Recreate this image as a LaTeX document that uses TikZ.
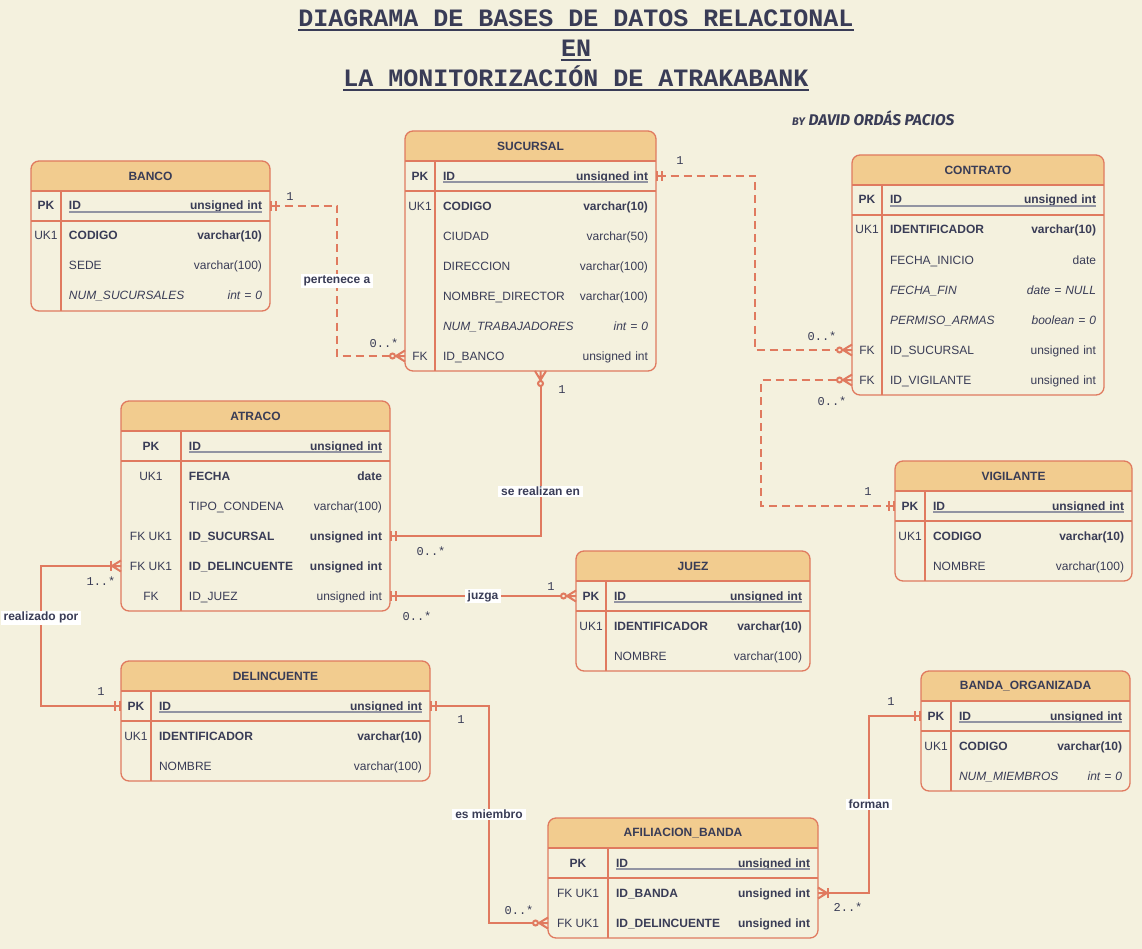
\documentclass[tikz,border=0pt]{standalone}
\usepackage{fontspec}
\setmainfont{Liberation Sans}
\newfontfamily\titlefont{Liberation Mono}
\newfontfamily\cardfont{Liberation Mono}
\newfontfamily\signfont{Fira Sans}
\usetikzlibrary{matrix,positioning,calc,arrows.meta}

\definecolor{paper}{HTML}{F4F1DE}
\definecolor{hdrfill}{HTML}{F2CC8F}
\definecolor{erd}{HTML}{E07A5F}
\definecolor{ink}{HTML}{393C56}

\newcommand\erdfont{\fontsize{12}{14}\selectfont}
\newcommand\fld[2]{\hbox to\hsize{#1\hfill#2}}

% crow's foot, tip at the table border
\pgfdeclarearrow{
  name = Crow,
  parameters = {\the\pgfarrowlength,\the\pgfarrowwidth},
  setup code = {
    \pgfarrowssettipend{0pt}
    \pgfarrowssetlineend{-\pgfarrowlength}
    \pgfarrowssetbackend{-\pgfarrowlength}
    \pgfarrowssavethe\pgfarrowlength
    \pgfarrowssavethe\pgfarrowwidth
  },
  drawing code = {
    \pgfsetdash{}{0pt}
    \pgfpathmoveto{\pgfqpoint{0pt}{.5\pgfarrowwidth}}
    \pgfpathlineto{\pgfqpoint{-\pgfarrowlength}{0pt}}
    \pgfpathlineto{\pgfqpoint{0pt}{-.5\pgfarrowwidth}}
    \pgfpathmoveto{\pgfqpoint{-\pgfarrowlength}{0pt}}
    \pgfpathlineto{\pgfqpoint{0pt}{0pt}}
    \pgfusepathqstroke
  },
  defaults = {length=9pt, width=11pt}
}

\begin{document}
\begin{tikzpicture}[x=1pt, y=-1pt,
    erdcell/.style={anchor=center, minimum height=30pt, inner sep=0pt,
      outer sep=0pt, text height=10pt, text depth=2pt, text=ink, font=\erdfont},
    erdtab/.style n args={2}{matrix of nodes, nodes in empty cells,
      anchor=north west, inner sep=0pt, outer sep=0pt, row sep=0pt,
      column sep=0pt, nodes={erdcell},
      column 1/.style={nodes={minimum width=#1}},
      column 2/.style={nodes={text width=#2, inner xsep=8pt}},
      row 1/.style={nodes={font=\erdfont\bfseries}}},
    erdhead/.style={minimum height=30pt, inner sep=0pt, outer sep=0pt,
      text=ink, font=\erdfont\bfseries},
    erdframe/.style={draw=erd, line width=1.3pt},
    pkrule/.style={draw=ink!55, line width=1.3pt},
    rel/.style={draw=erd, line width=2pt},
    reldash/.style={rel, dash pattern=on 8pt off 5pt},
    rellabel/.style={fill=white, text=ink, font=\erdfont\bfseries,
      inner xsep=3pt, inner ysep=1.5pt},
    card/.style={text=ink, font=\cardfont\fontsize{12}{14}\selectfont, inner sep=1pt},
    title/.style={text=ink, font=\titlefont\bfseries\fontsize{25}{30}\selectfont,
      inner sep=0pt, anchor=base},
    titlerule/.style={draw=ink, line width=2pt},
    ermone/.tip={Bar[width=10pt, sep=3pt] Bar[width=10pt]},
    ermzmany/.tip={Circle[length=7pt, fill=paper, sep=0pt] Crow},
    ermomany/.tip={Bar[width=10pt, sep=0pt] Crow}]

  \path[use as bounding box, fill=paper] (0,0) rectangle (1142,949);

  % title
  \node[title] (title1) at (576,27) {DIAGRAMA DE BASES DE DATOS RELACIONAL};
  \node[title] (title2) at (576,57) {EN};
  \node[title] (title3) at (576,87) {LA MONITORIZACIÓN DE ATRAKABANK};
  \foreach \ln in {title1,title2,title3}
    \draw[titlerule] ([yshift=-3pt]\ln.base west) -- ([yshift=-3pt]\ln.base east);
  \node[anchor=base west, inner sep=0pt, text=ink,
    font=\signfont\bfseries\itshape\fontsize{15.5}{18}\selectfont] (author)
    at (792,126) {{\fontsize{11}{13}\selectfont BY} DAVID ORDÁS PACIOS};

  % tables
  \matrix (banco) [erdtab={30pt}{193pt}] at (31,191) {
    PK  & \fld{ID}{unsigned int} \\
    UK1 & \fld{\textbf{CODIGO}}{\textbf{varchar(10)}} \\
        & \fld{SEDE}{varchar(100)} \\
        & \fld{\textit{NUM\_SUCURSALES}}{\textit{int = 0}} \\
  };
  \matrix (sucursal) [erdtab={30pt}{205pt}] at (405,161) {
    PK  & \fld{ID}{unsigned int} \\
    UK1 & \fld{\textbf{CODIGO}}{\textbf{varchar(10)}} \\
        & \fld{CIUDAD}{varchar(50)} \\
        & \fld{DIRECCION}{varchar(100)} \\
        & \fld{NOMBRE\_DIRECTOR}{varchar(100)} \\
        & \fld{\textit{NUM\_TRABAJADORES}}{\textit{int = 0}} \\
    FK  & \fld{ID\_BANCO}{unsigned int} \\
  };
  \matrix (contrato) [erdtab={30pt}{206pt}] at (852,185) {
    PK  & \fld{ID}{unsigned int} \\
    UK1 & \fld{\textbf{IDENTIFICADOR}}{\textbf{varchar(10)}} \\
        & \fld{FECHA\_INICIO}{date} \\
        & \fld{\textit{FECHA\_FIN}}{\textit{date = NULL}} \\
        & \fld{\textit{PERMISO\_ARMAS}}{\textit{boolean = 0}} \\
    FK  & \fld{ID\_SUCURSAL}{unsigned int} \\
    FK  & \fld{ID\_VIGILANTE}{unsigned int} \\
  };
  \matrix (atraco) [erdtab={60pt}{193pt}] at (121,431) {
    PK     & \fld{ID}{unsigned int} \\
    UK1    & \fld{\textbf{FECHA}}{\textbf{date}} \\
           & \fld{TIPO\_CONDENA}{varchar(100)} \\
    FK UK1 & \fld{\textbf{ID\_SUCURSAL}}{\textbf{unsigned int}} \\
    FK UK1 & \fld{\textbf{ID\_DELINCUENTE}}{\textbf{unsigned int}} \\
    FK     & \fld{ID\_JUEZ}{unsigned int} \\
  };
  \matrix (vigilante) [erdtab={30pt}{191pt}] at (895,491) {
    PK  & \fld{ID}{unsigned int} \\
    UK1 & \fld{\textbf{CODIGO}}{\textbf{varchar(10)}} \\
        & \fld{NOMBRE}{varchar(100)} \\
  };
  \matrix (juez) [erdtab={30pt}{188pt}] at (576,581) {
    PK  & \fld{ID}{unsigned int} \\
    UK1 & \fld{\textbf{IDENTIFICADOR}}{\textbf{varchar(10)}} \\
        & \fld{NOMBRE}{varchar(100)} \\
  };
  \matrix (delincuente) [erdtab={30pt}{263pt}] at (121,691) {
    PK  & \fld{ID}{unsigned int} \\
    UK1 & \fld{\textbf{IDENTIFICADOR}}{\textbf{varchar(10)}} \\
        & \fld{NOMBRE}{varchar(100)} \\
  };
  \matrix (banda) [erdtab={30pt}{163pt}] at (921,701) {
    PK  & \fld{ID}{unsigned int} \\
    UK1 & \fld{\textbf{CODIGO}}{\textbf{varchar(10)}} \\
        & \fld{\textit{NUM\_MIEMBROS}}{\textit{int = 0}} \\
  };
  \matrix (afiliacion) [erdtab={60pt}{194pt}] at (548,848) {
    PK     & \fld{ID}{unsigned int} \\
    FK UK1 & \fld{\textbf{ID\_BANDA}}{\textbf{unsigned int}} \\
    FK UK1 & \fld{\textbf{ID\_DELINCUENTE}}{\textbf{unsigned int}} \\
  };

  % headers and frames
  \foreach \tb/\nr/\hd in {banco/4/BANCO, sucursal/7/SUCURSAL,
      contrato/7/CONTRATO, atraco/6/ATRACO, vigilante/3/VIGILANTE,
      juez/3/JUEZ, delincuente/3/DELINCUENTE, banda/3/BANDA\_ORGANIZADA,
      afiliacion/3/AFILIACION\_BANDA} {
    \fill[hdrfill, rounded corners=8pt] ([yshift=30pt]\tb.north west) rectangle (\tb.north east);
    \fill[hdrfill] ([yshift=15pt]\tb.north west) rectangle (\tb.north east);
    \draw[erdframe, rounded corners=8pt] ([yshift=30pt]\tb.north west) rectangle (\tb.south east);
    \draw[erdframe] (\tb.north west) -- (\tb.north east)
      (\tb-1-1.south west) -- (\tb-1-2.south east)
      (\tb-1-1.north east) -- (\tb-\nr-1.south east);
    \draw[pkrule] ([xshift=8pt, yshift=-6pt]\tb-1-2.west) -- ([xshift=-8pt, yshift=-6pt]\tb-1-2.east);
    \node[erdhead, above=0pt of \tb] (\tb-h) {\hd};
  }

  % relations
  \draw[reldash, {ermone}-{ermzmany}] (banco-1-2.east) -- ++(67,0)
    |- node[rellabel, pos=.25] (pertenece) {pertenece a} (sucursal-7-1.west);
  \draw[reldash, {ermone}-{ermzmany}] (sucursal-1-2.east) -- ++(99,0) |- (contrato-6-1.west);
  \draw[reldash, {ermone}-{ermzmany}] (vigilante-1-1.west) -- ++(-134,0) |- (contrato-7-1.west);
  \draw[rel, {ermone}-{ermzmany}] (atraco-4-2.east)
    -| node[rellabel, pos=.635] (realizan) {se realizan en} ([xshift=10pt]sucursal.south);
  \draw[rel, {ermone}-{ermzmany}] (atraco-6-2.east)
    -- node[rellabel] (juzga) {juzga} (juez-1-1.west);
  \draw[rel, {ermone}-{ermomany}] (delincuente-1-1.west) -- ++(-80,0)
    |- node[rellabel, pos=.315] (realizado) {realizado por} (atraco-5-1.west);
  \draw[rel, {ermone}-{ermzmany}] (delincuente-1-2.east) -- ++(59,0)
    |- node[rellabel, pos=.25] (miembro) {es miembro} (afiliacion-3-1.west);
  \draw[rel, {ermone}-{ermomany}] (banda-1-1.west) -- ++(-52,0)
    |- node[rellabel, pos=.25] (forman) {forman} (afiliacion-2-2.east);

  % cardinalities
  \node[card] (c-banco)     at (290,197) {1};
  \node[card] (c-sucbanco)  at (384,343) {0..*};
  \node[card] (c-sucid)     at (680,161) {1};
  \node[card] (c-consuc)    at (822,336) {0..*};
  \node[card] (c-convig)    at (832,401) {0..*};
  \node[card] (c-vig)       at (868,492) {1};
  \node[card] (c-sucbot)    at (562,390) {1};
  \node[card] (c-atrsuc)    at (431,551) {0..*};
  \node[card] (c-juez)      at (551,587) {1};
  \node[card] (c-atrjuez)   at (417,616) {0..*};
  \node[card] (c-atrdel)    at (101,581) {1..*};
  \node[card] (c-delleft)   at (101,692) {1};
  \node[card] (c-delright)  at (461,720) {1};
  \node[card] (c-afdel)     at (519,910) {0..*};
  \node[card] (c-banda)     at (891,702) {1};
  \node[card] (c-afbanda)   at (848,907) {2..*};
\end{tikzpicture}
\end{document}
